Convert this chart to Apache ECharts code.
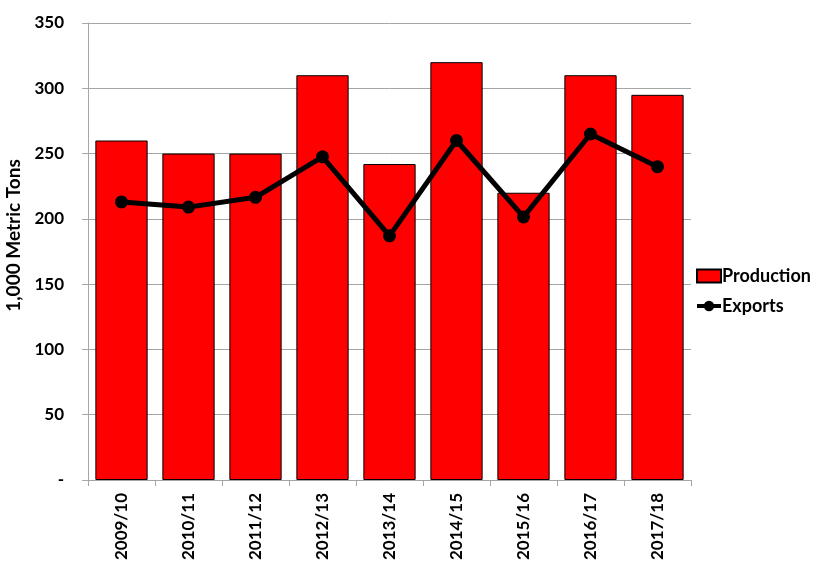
<!DOCTYPE html>
<html><head><meta charset="utf-8">
<script src="https://cdn.jsdelivr.net/npm/echarts@6/dist/echarts.min.js"></script>
<style>html,body{margin:0;padding:0;background:#fff}#c{width:813px;height:565px}</style>
</head><body><div id="c"></div>
<script>
const categories = ['2009/10','2010/11','2011/12','2012/13','2013/14','2014/15','2015/16','2016/17','2017/18'];
const production = [260, 250, 250, 310, 242, 320, 220, 310, 295];
const exportsData = [213, 209, 216.5, 247.5, 187, 260, 201.5, 265, 240];
const yTicks = [0, 50, 100, 150, 200, 250, 300, 350];

const FONT = 'Lato';
const chart = echarts.init(document.getElementById('c'));
chart.setOption({
  animation: false,
  textStyle: { fontFamily: FONT },
  grid: { left: 88, right: 122, top: 23, bottom: 85, containLabel: false, outerBoundsMode: 'none' },
  legend: {
    orient: 'vertical', left: 690, top: 262, itemGap: 12,
    itemWidth: 24, itemHeight: 13,
    textStyle: { fontFamily: FONT, fontWeight: 'bold', fontSize: 18, color: '#000', padding: [0,0,0,-4] },
    data: [
      { name: 'Production', icon: 'rect' },
      { name: 'Exports', lineStyle: { width: 4, color: '#000' } }
    ]
  },
  xAxis: {
    type: 'category', data: categories,
    axisLine: { lineStyle: { color: '#a6a6a6', width: 1 } },
    axisTick: { show: true, length: 6, lineStyle: { color: '#a6a6a6' } },
    axisLabel: { rotate: 90, fontFamily: FONT, fontWeight: 'bold', fontSize: 17, color: '#000', margin: 13 }
  },
  yAxis: {
    type: 'value', min: 0, max: 350, interval: 50,
    name: '1,000 Metric Tons', nameLocation: 'middle', nameGap: 61, nameRotate: 90,
    nameTextStyle: { fontFamily: FONT, fontWeight: 'bold', fontSize: 19, color: '#000', padding: [0, 0, 0, 32] },
    axisLine: { show: true, lineStyle: { color: '#a6a6a6', width: 1 } },
    axisTick: { show: true, length: 6, lineStyle: { color: '#a6a6a6' } },
    splitLine: { lineStyle: { color: '#a6a6a6', width: 1 } },
    axisLabel: {
      fontFamily: FONT, fontWeight: 'bold', fontSize: 17, color: '#000', margin: 24,
      formatter: v => (yTicks.indexOf(v) >= 0 ? (v === 0 ? '-' : String(v)) : '')
    }
  },
  series: [
    {
      name: 'Production', type: 'bar', data: production, barCategoryGap: '22%',
      itemStyle: { color: '#ff0000', borderColor: '#000', borderWidth: 1 }
    },
    {
      name: 'Exports', type: 'line', data: exportsData,
      symbol: 'circle', symbolSize: 13,
      lineStyle: { color: '#000', width: 5 },
      itemStyle: { color: '#000' }
    }
  ]
});
</script>
</body></html>
